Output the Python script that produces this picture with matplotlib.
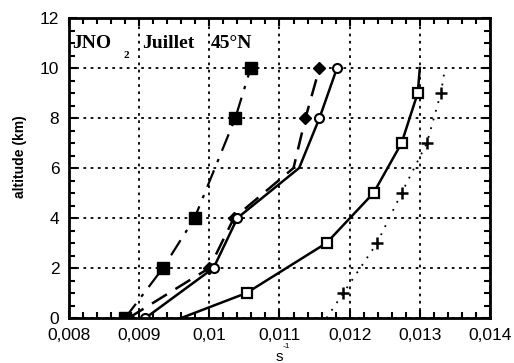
import matplotlib
matplotlib.use("Agg")
import matplotlib.pyplot as plt
from matplotlib.ticker import MultipleLocator

# Filled squares, dash-dot line
fsq_x = [0.0088, 0.00934, 0.00979, 0.01037, 0.01059]
fsq_alt = [0, 2, 4, 8, 10]

# Diamonds, dashed line
dia_x = [0.00885, 0.0100, 0.01035, 0.01137, 0.01157]
dia_alt = [0, 2, 4, 8, 10]
dia_line_x = [0.00885, 0.0100, 0.01035, 0.0112, 0.01137, 0.01157]
dia_line_alt = [0, 2, 4, 6, 8, 10]

# Open circles, solid line
cir_x = [0.00909, 0.01006, 0.0104, 0.01157, 0.01182]
cir_alt = [0, 2, 4, 8, 10]
cir_line_x = [0.00909, 0.01006, 0.0104, 0.01128, 0.01157, 0.01182]
cir_line_alt = [0, 2, 4, 6, 8, 10]

# Open squares, solid line
osq_x = [0.01053, 0.01167, 0.01234, 0.01274, 0.01297]
osq_alt = [1, 3, 5, 7, 9]
osq_line_x = [0.0096, 0.01053, 0.01167, 0.01234, 0.01274, 0.01297, 0.0130]
osq_line_alt = [0, 1, 3, 5, 7, 9, 10]

# Crosses, dotted line
crs_x = [0.01191, 0.01239, 0.01274, 0.0131, 0.0133]
crs_alt = [1, 3, 5, 7, 9]
crs_line_x = [0.01167, 0.01191, 0.01239, 0.01274, 0.0131, 0.0133, 0.01336]
crs_line_alt = [0, 1, 3, 5, 7, 9, 10]

x_ticks = [0.008, 0.009, 0.010, 0.011, 0.012, 0.013, 0.014]
x_tick_labels = ["0,008", "0,009", "0,01", "0,011", "0,012", "0,013", "0,014"]
y_ticks = [0, 2, 4, 6, 8, 10, 12]

plt.rcParams['font.family'] = ['Liberation Sans', 'DejaVu Sans']

fig = plt.figure(figsize=(5.14, 3.63), dpi=100)
ax = fig.add_axes([69/514, 1-318/363, (490-69)/514, (318-18)/363])

lw = 1.8
ax.plot(osq_line_x, osq_line_alt, color='black', lw=lw, linestyle='-')
ax.plot(osq_x, osq_alt, linestyle='none', marker='s', ms=7, mfc='white', mec='black', mew=1.6)

ax.plot(crs_line_x, crs_line_alt, color='black', lw=1.3, linestyle=(0, (1, 4)))
ax.plot(crs_x, crs_alt, linestyle='none', marker='+', ms=9, mec='black', mew=1.8)

ax.plot(fsq_x, fsq_alt, color='black', lw=1.6, linestyle=(0, (8, 4, 1.5, 4)))
ax.plot(fsq_x, fsq_alt, linestyle='none', marker='s', ms=8.5, mfc='black', mec='black')

ax.plot(dia_line_x, dia_line_alt, color='black', lw=lw, linestyle=(0, (7, 4)))
ax.plot(dia_x, dia_alt, linestyle='none', marker='D', ms=6, mfc='black', mec='black')

ax.plot(cir_line_x, cir_line_alt, color='black', lw=lw, linestyle='-')
ax.plot(cir_x, cir_alt, linestyle='none', marker='o', ms=6.5, mfc='white', mec='black', mew=1.5)

ax.set_xlim(0.008, 0.014)
ax.set_ylim(0, 12)
ax.set_xticks(x_ticks)
ax.set_xticklabels(x_tick_labels)
ax.set_yticks(y_ticks)
ax.xaxis.set_minor_locator(MultipleLocator(0.0002))
ax.yaxis.set_minor_locator(MultipleLocator(0.5))
ax.tick_params(which='both', direction='in', top=True, right=True, width=1.5, colors='black')
ax.tick_params(which='major', length=6, labelsize=12.5, pad=7)
ax.tick_params(which='minor', length=4)
for s in ax.spines.values():
    s.set_linewidth(2)

ax.grid(True, which='major', color='black', linestyle=(0, (1.5, 2.5)), lw=1.3)

tfont = dict(family=['Liberation Serif', 'DejaVu Serif'], fontweight='bold', fontsize=14)
ax.text(0.00804, 11.0, "JNO", va='center', ha='left', **tfont)
ax.text(0.00878, 10.5, "2", va='center', ha='left', family=['Liberation Serif'], fontweight='bold', fontsize=8)
ax.text(0.009043, 11.0, "Juillet", va='center', ha='left', **tfont)
ax.text(0.010014, 11.0, "45°N", va='center', ha='left', **tfont)

fig.text(20/514, 1-157/363, "altitude (km)", rotation=90, va='center', ha='center',
         fontsize=10, fontweight='bold', family=['Liberation Sans Narrow', 'Liberation Sans'])
fig.text(279/514, 1-357/363, "s", va='center', ha='center', fontsize=11)
fig.text(286/514, 1-346/363, "-1", va='center', ha='center', fontsize=6)

fig.savefig("out.png", dpi=100)
